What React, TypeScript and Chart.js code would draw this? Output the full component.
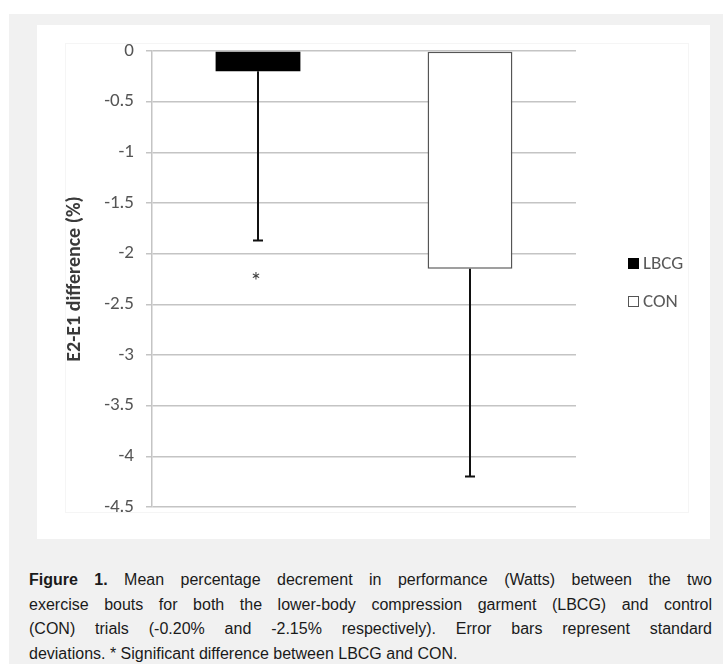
import React, { useEffect, useRef } from 'react';
import { Chart, registerables } from 'chart.js';

Chart.register(...registerables);

const categories = ['LBCG', 'CON'];
const seriesNames = ['LBCG', 'CON'];
const meanValues = [-0.2, -2.15];
const sdValues = [1.67, 2.05];
const yMin = -4.5;
const yMax = 0;
const yStep = 0.5;
const significanceCategory = 0;
const significanceValue = -2.23;
const axisTitle = 'E2-E1 difference (%)';
const captionLines = [
  ['Figure 1.', ' Mean percentage decrement in performance (Watts) between the two'],
  ['', 'exercise bouts for both the lower-body compression garment (LBCG) and control'],
  ['', '(CON) trials (-0.20% and -2.15% respectively). Error bars represent standard'],
  ['', 'deviations. * Significant difference between LBCG and CON.'],
];

const FONT = 'Carlito, "Open Sans", Lato, sans-serif';

const errorBarPlugin = {
  id: 'errorBars',
  afterDatasetsDraw(chart: any) {
    const ctx = chart.ctx;
    const y = chart.scales.y;
    chart.data.datasets.forEach((ds: any, di: number) => {
      const meta = chart.getDatasetMeta(di);
      ds.data.forEach((v: any, i: number) => {
        if (v === null || v === undefined) return;
        const el = meta.data[i];
        const sd = ds.sd[i];
        const x = Math.round(el.x);
        const y0 = y.getPixelForValue(v);
        const y1 = y.getPixelForValue(v - sd);
        ctx.save();
        ctx.strokeStyle = '#111';
        ctx.lineWidth = 2;
        ctx.beginPath();
        ctx.moveTo(x, y0);
        ctx.lineTo(x, y1);
        ctx.moveTo(x - 5, y1);
        ctx.lineTo(x + 5, y1);
        ctx.stroke();
        ctx.restore();
      });
    });
    const xs = chart.scales.x.getPixelForValue(significanceCategory);
    const ys = y.getPixelForValue(significanceValue);
    ctx.save();
    ctx.fillStyle = '#404040';
    ctx.font = '24px ' + FONT;
    ctx.textAlign = 'center';
    ctx.textBaseline = 'middle';
    ctx.fillText('*', xs - 2, ys + 6);
    ctx.restore();
  },
};

const legendPlugin = {
  id: 'sideLegend',
  afterDraw(chart: any) {
    const ctx = chart.ctx;
    const area = chart.chartArea;
    const mid = (area.top + area.bottom) / 2;
    const x0 = area.right + 52;
    const rows = [mid - 16, mid + 22];
    chart.data.datasets.forEach((ds: any, i: number) => {
      const yc = rows[i];
      ctx.save();
      ctx.fillStyle = ds.backgroundColor;
      ctx.fillRect(x0, yc - 5, 11, 11);
      ctx.strokeStyle = ds.borderColor;
      ctx.lineWidth = 1;
      ctx.strokeRect(x0 + 0.5, yc - 4.5, 10, 10);
      ctx.fillStyle = '#595959';
      ctx.font = '19px ' + FONT;
      ctx.textAlign = 'left';
      ctx.textBaseline = 'middle';
      ctx.fillText(ds.label, x0 + 15, yc + 1);
      ctx.restore();
    });
  },
};

function ChartPanel() {
  const ref = useRef<HTMLCanvasElement>(null);
  useEffect(() => {
    if (!ref.current) return;
    const chart = new Chart(ref.current, {
      type: 'bar',
      data: {
        labels: categories,
        datasets: [
          {
            label: seriesNames[0],
            data: [meanValues[0], null],
            sd: [sdValues[0], null],
            backgroundColor: '#000000',
            borderColor: '#000000',
            borderWidth: 0,
          } as any,
          {
            label: seriesNames[1],
            data: [null, meanValues[1]],
            sd: [null, sdValues[1]],
            backgroundColor: '#ffffff',
            borderColor: '#555555',
            borderWidth: 1.5,
            borderSkipped: false,
          } as any,
        ],
      },
      options: {
        animation: false,
        responsive: false,
        maintainAspectRatio: false,
        skipNull: true,
        categoryPercentage: 1,
        barPercentage: 0.4,
        layout: { padding: { left: 26, top: 26, right: 134, bottom: 32 } },
        plugins: { legend: { display: false }, tooltip: { enabled: false } },
        scales: {
          x: { display: false, grid: { display: false } },
          y: {
            min: yMin,
            max: yMax,
            afterFit: (s: any) => { s.width = 89; },
            ticks: {
              stepSize: yStep,
              color: '#555555',
              font: { family: FONT, size: 19 },
              padding: 12,
              callback: (v: any) => String(v),
            },
            grid: { color: '#c4c4c4', lineWidth: 1.5, tickLength: 6, drawTicks: true },
            border: { display: true, color: '#c4c4c4', width: 1.5 },
            title: {
              display: true,
              text: axisTitle,
              color: '#3a3a3a',
              font: { family: FONT, size: 20, weight: 'bold' },
              padding: { top: 0, bottom: 4 },
            },
          },
        },
      } as any,
      plugins: [errorBarPlugin, legendPlugin],
    });
    return () => chart.destroy();
  }, []);
  return <canvas ref={ref} width={673} height={514} style={{ position: 'absolute', left: 0, top: 0, display: 'block', width: 673, height: 514 }} />;
}

export default function App() {
  return (
    <div style={{ position: 'fixed', left: 9, top: 14, right: 0, bottom: 0, background: '#f1f1f1', overflow: 'hidden' }}>
      <div style={{ position: 'absolute', left: 28, top: 11, width: 673, height: 514, background: '#ffffff' }}>
        <div style={{ position: 'absolute', left: 28, top: 18, width: 622, height: 468, border: '1px solid #f5f5f5' }} />
        <ChartPanel />
      </div>
      <div
        style={{
          position: 'absolute',
          left: 20,
          top: 554,
          width: 683,
          fontFamily: '"Liberation Sans", Arial, sans-serif',
          fontSize: 16,
          lineHeight: '24.5px',
          color: '#1a1a1a',
        }}
      >
        {captionLines.map((ln, i) => (
          <div
            key={i}
            style={{
              textAlign: 'justify',
              textAlignLast: i < captionLines.length - 1 ? 'justify' : 'left',
              whiteSpace: 'nowrap',
            }}
          >
            {ln[0] ? <b>{ln[0]}</b> : null}
            {ln[1]}
          </div>
        ))}
      </div>
    </div>
  );
}
